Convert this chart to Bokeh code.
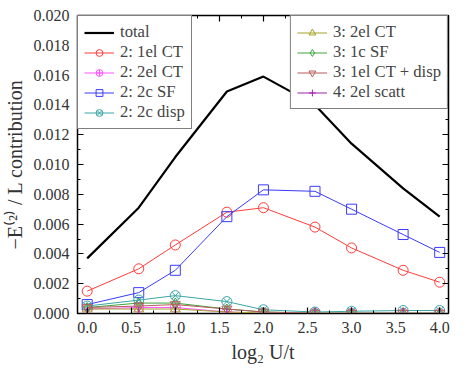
from bokeh.plotting import figure
from bokeh.models import (Legend, LegendItem, LinearAxis, Range1d, SingleIntervalTicker,
                          NumeralTickFormatter, CustomJSTickFormatter)
from bokeh.embed import file_html
from bokeh.resources import INLINE

x = [0.0, 0.585, 1.0, 1.585, 2.0, 2.585, 3.0, 3.585, 4.0]

total = [0.0037, 0.0071, 0.0105, 0.0149, 0.0159, 0.0140, 0.0114, 0.0084, 0.0065]
s2_1elCT = [0.0015, 0.0030, 0.0046, 0.0068, 0.0071, 0.0058, 0.0044, 0.0029, 0.0021]
s2_2elCT = [0.0003, 0.0004, 0.0004, 0.0001, 0.00003, 0.00001, 0.00001, 0.00001, 0.00001]
s2_2cSF = [0.0006, 0.0014, 0.0029, 0.0065, 0.0083, 0.0082, 0.0070, 0.0053, 0.0041]
s2_2cdisp = [0.0005, 0.0009, 0.0012, 0.0008, 0.00025, 0.0001, 0.00015, 0.0002, 0.0002]
s3_2elCT = [0.0003, 0.0003, 0.0003, 0.0001, 0.00003, 0.00001, 0.00001, 0.00001, 0.00001]
s3_1cSF = [0.0004, 0.0007, 0.0007, 0.0003, 0.0001, 0.00002, 0.00002, 0.00002, 0.00002]
s3_1elCTdisp = [0.0004, 0.0005, 0.0006, 0.0003, 0.0001, 0.00002, 0.00002, 0.00002, 0.00002]
s4_2elscatt = [0.0, 0.0, 0.0, 0.0, 0.0, 0.0, 0.0, 0.0, 0.0]

FONT = "Liberation Serif"

p = figure(width=456, height=367, output_backend="svg", toolbar_location=None,
           x_range=Range1d(-0.11, 4.1), y_range=Range1d(0, 0.020),
           min_border_left=76, min_border_right=8, min_border_top=15, min_border_bottom=54)
p.xgrid.visible = False
p.ygrid.visible = False
p.outline_line_color = "black"
p.outline_line_width = 1.5
p.background_fill_color = "white"
p.border_fill_color = "white"

series = [
    ("2: 1el CT", s2_1elCT, "#ff3b3b", "circle"),
    ("2: 2el CT", s2_2elCT, "#ff55ff", "circle_cross"),
    ("2: 2c SF", s2_2cSF, "#3b3bff", "square"),
    ("2: 2c disp", s2_2cdisp, "#3aa6a6", "circle_x"),
    ("3: 2el CT", s3_2elCT, "#a3a32a", "triangle"),
    ("3: 1c SF", s3_1cSF, "#3fa33f", "diamond"),
    ("3: 1el CT + disp", s3_1elCTdisp, "#b85a5a", "inverted_triangle"),
    ("4: 2el scatt", s4_2elscatt, "#a020b0", "cross"),
]

renderers = {}
tl = p.line(x, total, line_color="black", line_width=2.2)
renderers["total"] = [tl]
for name, ys, col, mk in series:
    l = p.line(x, ys, line_color=col, line_width=1)
    m = p.scatter(x, ys, marker=mk, size=10 if mk != "cross" else 12,
                  line_color=col, fill_color=None, line_width=1)
    renderers[name] = [l, m]

left_names = ["total", "2: 1el CT", "2: 2el CT", "2: 2c SF", "2: 2c disp"]
right_names = ["3: 2el CT", "3: 1c SF", "3: 1el CT + disp", "4: 2el scatt"]

def make_legend(names, loc):
    lg = Legend(items=[LegendItem(label=n, renderers=renderers[n]) for n in names],
                location=loc, margin=0, padding=6, spacing=0,
                label_text_font=FONT, label_text_font_size="12.5pt",
                label_height=17, glyph_height=17, glyph_width=30,
                border_line_color="black", border_line_width=1.5,
                background_fill_alpha=1.0, label_standoff=6)
    return lg

p.add_layout(make_legend(left_names, "top_left"))
p.add_layout(make_legend(right_names, "top_right"))

def style_axis(ax):
    ax.major_tick_in = 6
    ax.major_tick_out = 0
    ax.minor_tick_in = 3
    ax.minor_tick_out = 0
    ax.axis_line_color = "black"
    ax.major_tick_line_color = "black"
    ax.minor_tick_line_color = "black"
    ax.major_tick_line_width = 1.2
    ax.major_label_text_font = FONT
    ax.major_label_text_font_size = "12pt"
    ax.major_label_text_color = "#333333"
    ax.axis_label_text_font = FONT
    ax.axis_label_text_font_size = "15pt"
    ax.axis_label_text_font_style = "normal"
    ax.axis_label_text_color = "#333333"

p.xaxis[0].ticker = SingleIntervalTicker(interval=0.5, num_minor_ticks=2)
p.yaxis[0].ticker = SingleIntervalTicker(interval=0.002, num_minor_ticks=2)
p.xaxis[0].formatter = NumeralTickFormatter(format="0.0")
p.yaxis[0].formatter = NumeralTickFormatter(format="0.000")
for ax in (p.xaxis[0], p.yaxis[0]):
    style_axis(ax)
p.xaxis[0].axis_label = "log\u2082 U/t"
p.yaxis[0].axis_label = "\u2212E\u207d\u00b2\u207e / L contribution"
p.xaxis[0].major_label_standoff = 8
p.yaxis[0].major_label_standoff = 8

ra = LinearAxis(ticker=SingleIntervalTicker(interval=0.002, num_minor_ticks=2))
ta = LinearAxis(ticker=SingleIntervalTicker(interval=0.5, num_minor_ticks=2))
for ax in (ra, ta):
    style_axis(ax)
    ax.formatter = CustomJSTickFormatter(code="return '';")
    ax.major_label_standoff = 0
    ax.axis_label = None
p.add_layout(ra, "right")
p.add_layout(ta, "above")

open("out.html", "w").write(file_html(p, INLINE))
